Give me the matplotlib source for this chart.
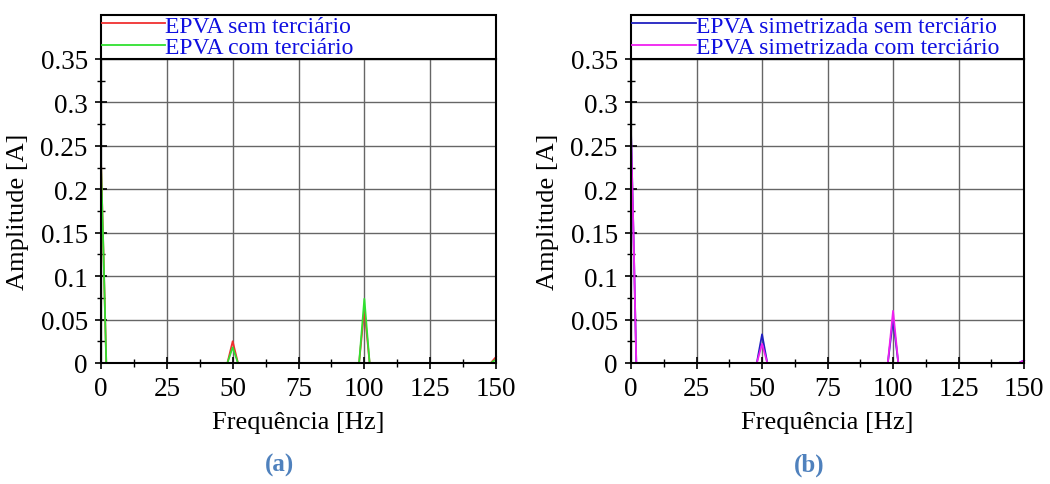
import matplotlib
matplotlib.use("Agg")
from matplotlib import pyplot as plt
from matplotlib.ticker import MultipleLocator

plt.rcParams['font.family'] = ['Liberation Serif', 'DejaVu Serif']

# frequency axis points (Hz)
freq = [0, 1, 2, 48, 50, 52, 98, 100, 102, 148, 150]

# (a) EPVA
sem_terc = [0.232, 0.12, 0.0, 0.0, 0.025, 0.0, 0.0, 0.062, 0.0, 0.0, 0.007]
com_terc = [0.229, 0.12, 0.0, 0.0, 0.018, 0.0, 0.0, 0.074, 0.0, 0.0, 0.004]

# (b) EPVA simetrizada
sim_sem = [0.265, 0.14, 0.0, 0.0, 0.033, 0.0, 0.0, 0.050, 0.0, 0.0, 0.003]
sim_com = [0.262, 0.14, 0.0, 0.0, 0.022, 0.0, 0.0, 0.060, 0.0, 0.0, 0.003]

labels_a = ["EPVA sem terciário", "EPVA com terciário"]
labels_b = ["EPVA simetrizada sem terciário", "EPVA simetrizada com terciário"]
xticks = [0, 25, 50, 75, 100, 125, 150]
yticks = [0, 0.05, 0.1, 0.15, 0.2, 0.25, 0.3, 0.35]
ytick_labels = ["0", "0.05", "0.1", "0.15", "0.2", "0.25", "0.3", "0.35"]

fig = plt.figure(figsize=(10.5, 4.85), dpi=100)
ax1 = fig.add_axes([0.0962, 0.2495, 0.3762, 0.6268])
ax2 = fig.add_axes([0.601, 0.2495, 0.3743, 0.6268])


def style(ax, series, colors, labels):
    for ys, c, lab in zip(series, colors, labels):
        ax.plot(freq, ys, color=c, lw=1.3, label=lab, clip_on=False)
    ax.set_xlim(0, 150)
    ax.set_ylim(0, 0.35)
    ax.set_xticks(xticks)
    ax.set_yticks(yticks)
    ax.set_yticklabels(ytick_labels)
    ax.xaxis.set_minor_locator(MultipleLocator(12.5))
    ax.yaxis.set_minor_locator(MultipleLocator(0.025))
    ax.grid(True, which='major', color='#666666', lw=1.0)
    ax.set_axisbelow(True)
    ax.tick_params(which='major', direction='inout', length=9, width=1.2,
                   labelsize=19.5, pad=5)
    ax.tick_params(which='minor', direction='inout', length=6, width=1.0)
    ax.tick_params(top=False, right=False)
    for s in ax.spines.values():
        s.set_linewidth(1.5)
    ax.set_xlabel("Frequência [Hz]", fontsize=19, labelpad=7)
    ax.set_ylabel("Amplitude [A]", fontsize=19, labelpad=8)
    leg = ax.legend(bbox_to_anchor=(0, 1, 1, 0.158), loc='lower left',
                    mode='expand', borderaxespad=0, fancybox=False,
                    edgecolor='black', framealpha=1, fontsize=17,
                    handlelength=2.7, handletextpad=0.0, labelspacing=0.0,
                    borderpad=0.03, labelcolor='#1010e0')
    leg.get_frame().set_linewidth(1.5)


style(ax1, [sem_terc, com_terc], ['#f03030', '#30e030'], labels_a)
style(ax2, [sim_sem, sim_com], ['#2020c0', '#f020f0'], labels_b)

fig.text(0.266, 0.027, "(a)", color='#4f81bd', fontsize=18, fontweight='bold',
         ha='center')
fig.text(0.771, 0.027, "(b)", color='#4f81bd', fontsize=18, fontweight='bold',
         ha='center')

fig.savefig("out.png", dpi=100)
